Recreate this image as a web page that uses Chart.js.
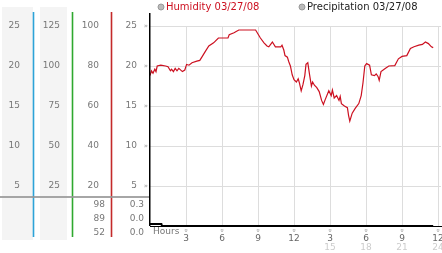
<!DOCTYPE html>
<html><head><meta charset="utf-8">
<script src="https://cdn.jsdelivr.net/npm/chart.js@4/dist/chart.umd.min.js"></script>
<style>html,body{margin:0;padding:0;background:#fff;overflow:hidden;}</style>
</head><body>
<canvas id="c" width="442" height="253"></canvas>
<script>
const hours = [0,0.12,0.25,0.4,0.5,0.6,0.9,1.3,1.5,1.7,1.8,1.95,2.1,2.25,2.4,2.7,2.9,3.05,3.25,3.5,3.9,4.15,4.36,4.6,4.9,5.3,5.7,6.5,6.6,7.0,7.4,8.8,9.0,9.2,9.5,9.75,9.9,10.1,10.2,10.45,10.9,11.0,11.15,11.25,11.45,11.55,11.7,11.85,12.0,12.2,12.35,12.45,12.6,12.75,12.9,13.0,13.15,13.3,13.45,13.55,13.7,13.9,14.1,14.3,14.45,14.6,14.9,15.1,15.2,15.35,15.55,15.75,15.85,15.95,16.2,16.45,16.55,16.65,16.85,17.1,17.4,17.6,17.75,17.9,18.05,18.3,18.45,18.7,18.85,19.0,19.1,19.25,19.6,19.9,20.4,20.7,21.0,21.4,21.7,22.0,22.4,22.7,22.95,23.2,23.45,23.6];
const humidity = [18.8,19.4,19.1,19.6,19.3,20.0,20.1,20.0,19.9,19.4,19.6,19.3,19.7,19.4,19.7,19.3,19.5,20.2,20.1,20.4,20.6,20.7,21.2,21.8,22.5,22.9,23.5,23.5,23.9,24.15,24.5,24.5,24.0,23.5,22.9,22.5,22.4,22.8,23.0,22.4,22.4,22.6,22.0,21.3,21.1,20.6,20.0,18.9,18.3,18.0,18.4,17.9,16.9,17.7,18.8,20.2,20.4,18.9,17.5,18.0,17.6,17.3,16.8,15.7,15.2,15.8,16.9,16.3,17.0,16.0,16.3,15.7,16.2,15.3,15.0,14.8,13.8,13.1,14.1,14.7,15.3,16.3,17.9,20.0,20.3,20.1,18.9,18.8,19.0,18.7,18.2,19.3,19.7,20.0,20.05,20.9,21.2,21.3,22.2,22.4,22.6,22.7,23.0,22.8,22.4,22.3];
const precipHours = [0, 0.95, 1.0, 23.6];
const precip = [0.25, 0.25, 0, 0];
const xTickValues = [3,6,9,12,15,18,21,24];
const xTickLabels = ['3','6','9','12','3','6','9','12'];
const xTickLabels2 = ['','','','','15','18','21','24'];
const col1Ticks = [5,10,15,20,25];
const col2Ticks = [25,50,75,100,125];
const col3Ticks = [20,40,60,80,100];
const col4Ticks = [5,10,15,20,25];
const humidityStats = ['98','89','52'];
const precipStats = ['0.3','0.0','0.0'];
const legendLabels = ['Humidity 03/27/08','Precipitation 03/27/08'];

const FONT = "'DejaVu Sans', sans-serif";

function leftAxis(min, max, ticks, width, pad, weight) {
  return {
    position: 'left', axis: 'y', min: min, max: max, weight: weight,
    afterBuildTicks: s => { s.ticks = ticks.map(v => ({value: v})); },
    afterFit: s => { s.width = width; s.paddingTop = 0; s.paddingBottom = 0; },
    grid: {display: false, drawTicks: false},
    border: {display: false},
    ticks: {padding: pad, color: '#777', font: {family: FONT, size: 9}, autoSkip: false,
      callback: (v, i) => String(ticks[i])}
  };
}

const panel = {
  id: 'panel',
  beforeDraw(chart) {
    const ctx = chart.ctx;
    ctx.save();
    ctx.fillStyle = '#fff';
    ctx.fillRect(0, 0, chart.width, chart.height);
    ctx.fillStyle = '#f4f4f4';
    ctx.fillRect(2, 7, 31, 233);
    ctx.fillRect(40, 7, 27, 233);
    ctx.restore();
  },
  afterDraw(chart) {
    const ctx = chart.ctx;
    const s = chart.scales;
    ctx.save();
    // column separator lines
    ctx.fillStyle = '#2da3d8'; ctx.fillRect(s.c1.right - 0.3, 12, 1.6, 225);
    ctx.fillStyle = '#2fa82f'; ctx.fillRect(s.c2.right - 0.3, 12, 1.6, 225);
    ctx.fillStyle = '#c42a2a'; ctx.fillRect(s.c3.right - 0.3, 12, 1.6, 225);
    // horizontal separator
    ctx.fillStyle = 'rgba(150,150,150,0.85)'; ctx.fillRect(0, 196, chart.chartArea.left - 1, 2);
    // left black axis line
    ctx.fillStyle = '#000'; ctx.fillRect(chart.chartArea.left - 1, 13, 1.5, chart.chartArea.bottom - 13);
    // stats rows
    ctx.font = '9px ' + FONT;
    ctx.fillStyle = '#777';
    ctx.textAlign = 'right'; ctx.textBaseline = 'middle';
    const rowsY = [204.5, 218.5, 232.5];
    humidityStats.forEach((t, i) => ctx.fillText(t, 105, rowsY[i]));
    precipStats.forEach((t, i) => ctx.fillText(t, 144, rowsY[i]));
    // small tick glyphs
    ctx.font = '7px ' + FONT;
    ctx.fillStyle = '#999';
    ctx.textAlign = 'center';
    col4Ticks.forEach(v => ctx.fillText('\u00bb', 146, s.y.getPixelForValue(v)));
    xTickValues.forEach(v => {
      ctx.save();
      ctx.translate(s.x.getPixelForValue(v), 230.5);
      ctx.rotate(Math.PI / 2);
      ctx.fillText('\u00bb', 0, 0);
      ctx.restore();
    });
    // Hours label
    ctx.font = '9px ' + FONT;
    ctx.fillStyle = '#777';
    ctx.textAlign = 'left';
    ctx.fillText('Hours', 153, 231.5);
    // legend
    const items = [
      {x: 161, color: '#cc1020', text: legendLabels[0]},
      {x: 302, color: '#222', text: legendLabels[1]}
    ];
    ctx.font = '10px ' + FONT;
    items.forEach(it => {
      ctx.beginPath();
      ctx.arc(it.x, 7, 3, 0, Math.PI * 2);
      ctx.fillStyle = '#bbb'; ctx.fill();
      ctx.lineWidth = 1; ctx.strokeStyle = '#999'; ctx.stroke();
      ctx.fillStyle = it.color;
      ctx.textBaseline = 'middle';
      ctx.fillText(it.text, it.x + 5, 7);
    });
    ctx.restore();
  }
};

new Chart(document.getElementById('c'), {
  type: 'line',
  data: {
    datasets: [
      {label: legendLabels[0], data: hours.map((h, i) => ({x: h, y: humidity[i]})),
        borderColor: '#cc1020', borderWidth: 1.2, pointRadius: 0, tension: 0, xAxisID: 'x', yAxisID: 'y'},
      {label: legendLabels[1], data: precipHours.map((h, i) => ({x: h, y: precip[i]})),
        borderColor: '#000', borderWidth: 2, pointRadius: 0, tension: 0, clip: false, xAxisID: 'x', yAxisID: 'y'}
    ]
  },
  options: {
    responsive: false, animation: false, devicePixelRatio: 1,
    layout: {padding: {top: 26, right: 1, left: 0, bottom: 0}},
    plugins: {legend: {display: false}, tooltip: {enabled: false}},
    scales: {
      x: {type: 'linear', position: 'bottom', min: 0, max: 24.25, weight: 0,
        afterBuildTicks: s => { s.ticks = xTickValues.map(v => ({value: v})); },
        afterFit: s => { s.height = 16; s.paddingLeft = 0; s.paddingRight = 0; },
        grid: {color: '#ddd', drawTicks: false},
        border: {display: true, color: '#000', width: 1},
        ticks: {autoSkip: false, maxRotation: 0, padding: 7, color: '#666', font: {family: FONT, size: 9},
          callback: (v, i) => xTickLabels[i]}
      },
      x2: {type: 'linear', axis: 'x', position: 'bottom', min: 0, max: 24.25, weight: 1,
        afterBuildTicks: s => { s.ticks = xTickValues.map(v => ({value: v})); },
        afterFit: s => { s.height = 11; s.paddingLeft = 0; s.paddingRight = 0; },
        grid: {display: false, drawTicks: false},
        border: {display: false},
        ticks: {autoSkip: false, maxRotation: 0, padding: 0, color: '#ccc', font: {family: FONT, size: 9},
          callback: (v, i) => xTickLabels2[i]}
      },
      y: {position: 'left', min: 0, max: 25, weight: 0,
        afterBuildTicks: s => { s.ticks = col4Ticks.map(v => ({value: v})); },
        afterFit: s => { s.width = 39; s.paddingTop = 0; s.paddingBottom = 0; },
        grid: {color: '#ddd', drawTicks: false},
        border: {display: false},
        ticks: {padding: 13, color: '#777', font: {family: FONT, size: 9}, autoSkip: false,
          callback: (v, i) => String(col4Ticks[i])}
      },
      c3: leftAxis(0, 100, col3Ticks, 39, 12, 1),
      c2: leftAxis(0, 125, col2Ticks, 39, 12, 2),
      c1: leftAxis(0, 25, col1Ticks, 33, 13, 3)
    }
  },
  plugins: [panel]
});
</script>
</body></html>
